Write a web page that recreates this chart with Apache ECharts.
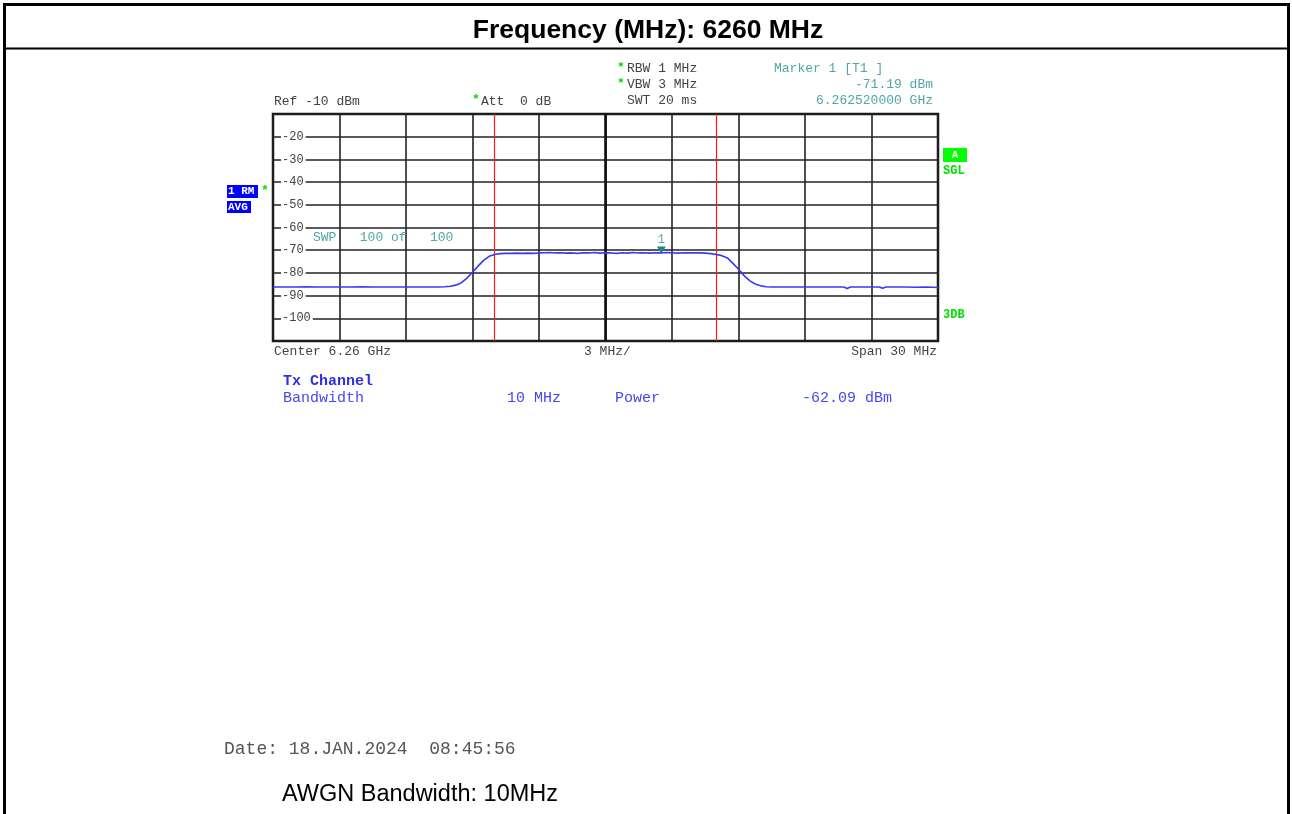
<!DOCTYPE html>
<html>
<head>
<meta charset="utf-8">
<title>Frequency (MHz): 6260 MHz</title>
<script src="https://cdn.jsdelivr.net/npm/echarts@6/dist/echarts.min.js"></script>
<style>
  html, body { margin: 0; padding: 0; background: #fff; }
  #chart { width: 1292px; height: 814px; }
</style>
</head>
<body>
<div id="chart"></div>
<script>
// Spectrum analyser trace: offset from the 6.26 GHz centre (MHz) and level (dBm)
const freqOffsetMHz = [
  -15, -14.5, -14, -13.5, -13, -12.5, -12, -11.5, -11, -10.5, -10, -9.5, -9, -8.5, -8, -7.5,
  -7.25, -7, -6.75, -6.5, -6.25, -6, -5.75, -5.5, -5.25, -5, -4.75, -4.5,
  -4.25, -4, -3.75, -3.5, -3.25, -3, -2.75, -2.5, -2.25, -2, -1.75, -1.5, -1.25, -1, -0.75, -0.5, -0.25,
  0, 0.25, 0.5, 0.75, 1, 1.25, 1.5, 1.75, 2, 2.25, 2.5, 2.75, 3, 3.25, 3.5, 3.75, 4, 4.25, 4.5, 4.75,
  5, 5.25, 5.5, 5.75, 6, 6.25, 6.5, 6.75, 7, 7.25, 7.5,
  8, 8.5, 9, 9.5, 10, 10.5, 10.75, 10.9, 11.05, 11.5, 12, 12.35, 12.5, 12.65, 13, 13.5, 14, 14.5, 15
];
const levelDbm = [
  -86.2, -86.2, -86.2, -86.1, -86.2, -86.2, -86.2, -86.2, -86.1, -86.2, -86.2, -86.2, -86.2, -86.2, -86.2, -86.2,
  -86.1, -85.9, -85.4, -84.3, -82.3, -79.7, -77.0, -74.5, -72.7, -71.9, -71.5, -71.4,
  -71.4, -71.3, -71.4, -71.3, -71.4, -71.2, -71.1, -71.0, -71.2, -71.1, -71.3, -71.2, -71.4, -71.1, -71.2, -71.0, -71.3,
  -71.1, -71.2, -71.4, -71.1, -71.3, -71.0, -71.2, -71.1, -71.3, -71.1, -71.2, -71.0, -71.1, -71.3, -71.1, -71.2, -71.1, -71.2, -71.3, -71.5,
  -71.9, -72.4, -73.4, -75.8, -78.4, -81.2, -83.4, -84.9, -85.7, -86.1, -86.2,
  -86.2, -86.2, -86.2, -86.2, -86.2, -86.2, -86.2, -86.9, -86.2, -86.2, -86.2, -86.2, -86.8, -86.2, -86.2, -86.2, -86.3, -86.2, -86.4
];

// Channel power integration limits (10 MHz Tx channel)
const channelEdgesMHz = [-5, 5];
// Marker 1 [T1]
const markerOffsetMHz = 2.52;
const markerLevelDbm = -71.19;
// Display scale
const refLevelDbm = -10;
const bottomLevelDbm = -110;
const levelStepDb = 10;
const halfSpanMHz = 15;
const divisionMHz = 3;

const MONO = '"Liberation Mono", "DejaVu Sans Mono", monospace';
const SANS = '"Liberation Sans", Arial, sans-serif';
const TEAL = '#4fa7a7';
const GREY = '#444';
const BLUE = '#4747f5';
const GREEN = '#00e000';

const traceData = freqOffsetMHz.map((f, i) => [f, levelDbm[i]]);

function txt(x, y, text, opt) {
  opt = opt || {};
  return {
    type: 'text', x: x, y: y, z: 100, silent: true,
    style: {
      text: text,
      font: opt.font || ('13px ' + MONO),
      fill: opt.fill || GREY,
      textAlign: opt.align || 'left',
      textVerticalAlign: 'middle'
    }
  };
}
function box(x, y, w, h, fill) {
  return { type: 'rect', z: 99, silent: true, shape: { x: x, y: y, width: w, height: h }, style: { fill: fill } };
}

const chart = echarts.init(document.getElementById('chart'), null, { renderer: 'canvas' });

chart.setOption({
  animation: false,
  backgroundColor: '#fff',
  grid: {
    left: 273, top: 114, width: 665, height: 227,
    show: true, borderColor: '#111', borderWidth: 2.5, backgroundColor: 'transparent'
  },
  xAxis: {
    type: 'value',
    min: -halfSpanMHz, max: halfSpanMHz, interval: divisionMHz,
    axisLine: { show: false },
    axisTick: { show: false },
    axisLabel: { show: false },
    splitLine: { show: true, lineStyle: { color: '#222', width: 1.6 } }
  },
  yAxis: {
    type: 'value',
    min: bottomLevelDbm, max: refLevelDbm, interval: levelStepDb,
    axisLine: { show: false },
    axisTick: { show: false },
    splitLine: { show: true, lineStyle: { color: '#222', width: 1.6 } },
    axisLabel: {
      inside: true, margin: 8,
      showMinLabel: false, showMaxLabel: false,
      color: GREY, fontFamily: MONO, fontSize: 12,
      backgroundColor: '#fff', padding: [0, 2, 0, 1],
      formatter: v => String(v)
    }
  },
  series: [
    {
      type: 'line',
      data: traceData,
      showSymbol: false,
      smooth: false,
      lineStyle: { color: '#3a3af2', width: 1.6 },
      z: 5,
      markLine: {
        silent: true, symbol: 'none', label: { show: false },
        data: [
          { xAxis: 0, lineStyle: { color: '#111', width: 2.6, type: 'solid' } },
          { xAxis: channelEdgesMHz[0], lineStyle: { color: '#ff1a1a', width: 1.2, type: 'solid' } },
          { xAxis: channelEdgesMHz[1], lineStyle: { color: '#ff1a1a', width: 1.2, type: 'solid' } }
        ]
      },
      markPoint: {
        silent: true,
        symbol: 'triangle', symbolRotate: 180, symbolSize: [9, 7], symbolOffset: [0, -3],
        itemStyle: { color: '#1c8a8a' },
        label: { show: true, position: 'top', distance: 1, formatter: '1', color: TEAL, fontFamily: MONO, fontSize: 12 },
        data: [{ coord: [markerOffsetMHz, markerLevelDbm] }]
      }
    }
  ],
  graphic: [
    // page frame and title row
    { type: 'rect', z: 90, silent: true, shape: { x: 4.5, y: 4.5, width: 1284, height: 830 }, style: { fill: 'none', stroke: '#000', lineWidth: 3 } },
    { type: 'line', z: 90, silent: true, shape: { x1: 4, y1: 48.5, x2: 1289, y2: 48.5 }, style: { stroke: '#000', lineWidth: 2 } },
    txt(648, 31, 'Frequency (MHz): 6260 MHz', { font: 'bold 26.5px ' + SANS, fill: '#000', align: 'center' }),

    // instrument settings header
    txt(274, 102, 'Ref -10 dBm'),
    txt(476, 100, '*', { fill: GREEN, align: 'center', font: 'bold 13px ' + MONO }),
    txt(481, 102, 'Att  0 dB'),
    txt(621, 68, '*', { fill: GREEN, align: 'center', font: 'bold 13px ' + MONO }),
    txt(627, 69, 'RBW 1 MHz'),
    txt(621, 84, '*', { fill: GREEN, align: 'center', font: 'bold 13px ' + MONO }),
    txt(627, 85, 'VBW 3 MHz'),
    txt(627, 101, 'SWT 20 ms'),
    txt(774, 69, 'Marker 1 [T1 ]', { fill: TEAL }),
    txt(933, 85, '-71.19 dBm', { fill: TEAL, align: 'right' }),
    txt(933, 101, '6.262520000 GHz', { fill: TEAL, align: 'right' }),

    // trace / sweep status
    txt(313, 238, 'SWP   100 of   100', { fill: TEAL }),
    box(227, 185, 31, 13, '#0000ff'),
    txt(228, 191.5, '1 RM', { fill: '#fff', font: 'bold 11px ' + MONO }),
    box(227, 201, 24, 12, '#0000ff'),
    txt(228, 207, 'AVG', { fill: '#fff', font: 'bold 11px ' + MONO }),
    txt(265, 191, '*', { fill: GREEN, align: 'center', font: 'bold 13px ' + MONO }),
    box(943, 148, 24, 14, '#00ff00'),
    txt(955, 155, 'A', { fill: '#fff', align: 'center', font: 'bold 11px ' + MONO }),
    txt(943, 171, 'SGL', { fill: GREEN, font: 'bold 12px ' + MONO }),
    txt(943, 315, '3DB', { fill: GREEN, font: 'bold 12px ' + MONO }),

    // frequency axis annotation
    txt(274, 352, 'Center 6.26 GHz'),
    txt(584, 352, '3 MHz/'),
    txt(937, 352, 'Span 30 MHz', { align: 'right' }),

    // channel power result
    txt(283, 381, 'Tx Channel', { fill: '#2f2fe0', font: 'bold 15px ' + MONO }),
    txt(283, 398, 'Bandwidth', { fill: BLUE, font: '15px ' + MONO }),
    txt(507, 398, '10 MHz', { fill: BLUE, font: '15px ' + MONO }),
    txt(615, 398, 'Power', { fill: BLUE, font: '15px ' + MONO }),
    txt(802, 398, '-62.09 dBm', { fill: BLUE, font: '15px ' + MONO }),

    // footer
    txt(224, 749, 'Date: 18.JAN.2024  08:45:56', { fill: '#555', font: '18px ' + MONO }),
    txt(282, 795, 'AWGN Bandwidth: 10MHz', { fill: '#000', font: '23.5px ' + SANS })
  ]
});
</script>
</body>
</html>
